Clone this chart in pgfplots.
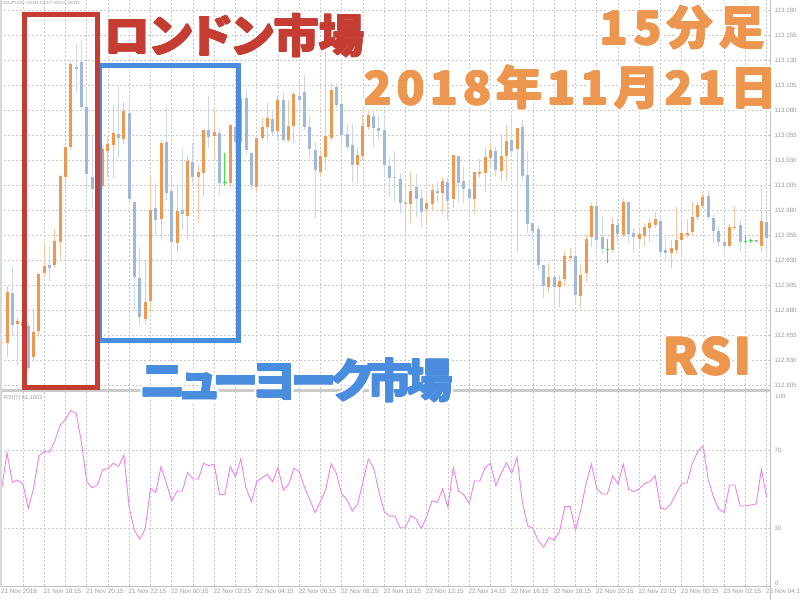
\documentclass[border=0pt]{standalone}
\usepackage{fontspec}
\setmainfont{Liberation Sans}
\newfontfamily\jp[RawFeature=+palt]{Noto Sans CJK JP}
\usepackage{pgfplots}
\usepackage{pgfplotstable}
\pgfplotsset{compat=1.18}

\definecolor{upbody}{RGB}{240,152,82}
\definecolor{upwick}{RGB}{246,198,160}
\definecolor{dnbody}{RGB}{160,185,218}
\definecolor{dnwick}{RGB}{202,216,236}
\definecolor{dojic}{RGB}{60,230,60}
\definecolor{rsic}{RGB}{238,130,238}
\definecolor{redbox}{RGB}{196,60,50}
\definecolor{bluebox}{RGB}{74,140,222}
\definecolor{orangetxt}{RGB}{236,150,80}
\definecolor{gridc}{RGB}{200,200,200}
\definecolor{lbl}{RGB}{155,155,155}
\definecolor{framec}{RGB}{190,190,190}

% USDJPY M15 candles: open high low close (prices)
\pgfplotstableread{
x o h l c
0 112.847 112.880 112.822 112.848
1 112.847 112.904 112.833 112.898
3 112.866 112.873 112.825 112.869
6 112.833 112.882 112.828 112.858
7 112.859 112.917 112.853 112.916
8 112.917 112.947 112.913 112.924
10 112.925 112.961 112.922 112.949
11 112.948 113.015 112.931 113.014
12 113.013 113.043 113.000 113.043
13 113.043 113.128 113.040 113.126
18 113.001 113.010 112.995 113.004
19 113.004 113.044 113.001 113.041
20 113.039 113.053 113.013 113.046
21 113.045 113.085 113.012 113.057
23 113.051 113.088 113.046 113.079
27 112.871 112.929 112.865 112.888
28 112.889 113.013 112.877 112.980
30 112.971 113.050 112.951 113.047
33 112.947 113.005 112.937 112.979
35 112.974 113.035 112.951 113.029
37 113.013 113.025 112.967 113.018
38 113.017 113.060 112.994 113.060
40 113.054 113.082 113.029 113.058
43 113.007 113.065 113.003 113.065
45 113.048 113.095 113.045 113.092
48 113.003 113.052 112.998 113.052
49 113.052 113.072 113.050 113.063
50 113.063 113.087 113.050 113.072
52 113.059 113.095 113.050 113.090
54 113.050 113.090 113.048 113.064
55 113.064 113.098 113.047 113.096
60 113.018 113.040 113.013 113.034
61 113.033 113.147 113.020 113.054
62 113.052 113.107 113.050 113.100
67 113.025 113.042 113.007 113.035
68 113.034 113.075 113.030 113.064
69 113.063 113.080 113.060 113.075
76 112.986 113.007 112.955 112.987
77 112.986 113.018 112.967 112.999
80 112.981 112.993 112.967 112.987
81 112.986 113.006 112.980 113.000
83 112.997 113.012 112.976 113.009
85 112.991 113.035 112.982 113.035
89 112.991 113.018 112.976 113.018
90 113.016 113.031 113.012 113.018
91 113.017 113.043 112.998 113.033
92 113.032 113.047 113.021 113.040
94 113.019 113.056 113.010 113.034
95 113.034 113.065 113.009 113.049
97 113.041 113.062 112.938 113.062
103 112.903 112.927 112.897 112.913
105 112.903 112.915 112.883 112.909
106 112.911 112.939 112.905 112.934
107 112.932 112.942 112.928 112.934
109 112.894 112.925 112.881 112.915
110 112.917 112.955 112.908 112.951
111 112.953 112.987 112.943 112.984
115 112.940 112.972 112.938 112.966
117 112.955 112.992 112.953 112.988
120 112.951 112.963 112.942 112.956
121 112.954 112.967 112.944 112.963
122 112.962 112.972 112.948 112.967
123 112.965 112.978 112.962 112.971
126 112.937 112.950 112.922 112.942
127 112.940 112.983 112.936 112.950
128 112.950 112.970 112.934 112.957
129 112.955 112.971 112.952 112.957
130 112.958 112.988 112.955 112.973
131 112.973 112.988 112.970 112.985
132 112.984 112.997 112.982 112.993
137 112.944 112.966 112.942 112.963
138 112.962 112.984 112.960 112.963
143 112.944 113.005 112.938 112.969
}\uptab

\pgfplotstableread{
x o h l c
2 112.897 112.924 112.855 112.865
4 112.868 112.872 112.860 112.864
5 112.864 112.868 112.818 112.822
9 112.925 112.943 112.909 112.922
14 113.123 113.146 113.098 113.121
15 113.128 113.149 113.080 113.083
16 113.083 113.103 113.003 113.016
17 113.013 113.054 112.982 113.001
22 113.056 113.104 113.032 113.052
24 113.077 113.095 112.985 112.991
25 112.988 112.988 112.880 112.913
26 112.912 112.943 112.865 112.873
29 112.982 113.007 112.955 112.970
31 113.048 113.083 112.990 112.997
32 112.999 113.013 112.927 112.948
34 112.980 113.041 112.960 112.976
36 113.028 113.047 113.007 113.013
39 113.060 113.094 113.042 113.053
41 113.057 113.061 112.995 113.007
44 113.063 113.070 113.040 113.048
46 113.092 113.100 113.035 113.040
47 113.037 113.037 113.000 113.005
51 113.071 113.080 113.055 113.058
53 113.090 113.098 113.048 113.050
56 113.094 113.110 113.080 113.090
57 113.098 113.115 113.060 113.063
58 113.063 113.075 113.032 113.041
59 113.040 113.048 112.972 113.020
63 113.103 113.107 113.082 113.085
64 113.086 113.090 113.043 113.055
65 113.056 113.066 113.040 113.043
66 113.045 113.066 113.007 113.025
70 113.074 113.080 113.043 113.062
71 113.062 113.075 113.050 113.059
72 113.060 113.075 113.012 113.025
73 113.024 113.033 112.993 113.012
74 113.013 113.039 112.988 113.012
75 113.011 113.017 112.977 112.987
78 113.003 113.016 112.973 112.991
79 112.992 113.000 112.963 112.978
82 112.999 113.009 112.988 112.997
84 113.008 113.012 112.970 112.989
86 113.034 113.034 112.987 113.007
87 113.009 113.023 112.987 113.001
88 113.001 113.011 112.976 112.992
93 113.039 113.043 113.013 113.020
96 113.050 113.074 113.035 113.039
98 113.063 113.070 113.010 113.014
99 113.015 113.039 112.957 112.966
100 112.967 112.967 112.951 112.959
101 112.961 112.964 112.920 112.925
102 112.925 112.925 112.892 112.904
104 112.913 112.913 112.882 112.903
108 112.934 112.938 112.885 112.895
112 112.984 112.990 112.943 112.950
113 112.953 112.974 112.936 112.941
116 112.965 112.972 112.947 112.956
118 112.988 112.988 112.947 112.956
119 112.957 112.962 112.937 112.953
124 112.969 112.974 112.932 112.938
125 112.940 112.953 112.931 112.937
133 112.994 113.000 112.970 112.973
134 112.972 112.976 112.947 112.959
135 112.959 112.963 112.943 112.948
136 112.948 112.957 112.938 112.944
139 112.965 112.970 112.938 112.948
142 112.950 112.950 112.948 112.948
144 112.968 112.977 112.932 112.952
}\dntab

\pgfplotstableread{
x o h l c
42 113.007 113.037 113.005 113.007
114 112.940 112.951 112.927 112.940
140 112.948 112.955 112.947 112.948
141 112.949 112.951 112.947 112.949
}\dojitab

\pgfplotstableread{
x r
0 50.6
1 69.0
2 53.7
3 54.9
4 52.8
5 40.3
6 50.6
7 67.3
8 69.5
9 69.2
10 75.0
11 83.2
12 86.2
13 90.6
14 89.3
15 74.7
16 54.0
17 50.9
18 52.3
19 60.1
20 60.9
21 63.5
22 61.9
23 67.8
24 40.6
25 28.8
26 24.5
27 29.6
28 50.6
29 48.5
30 61.8
31 53.2
32 44.1
33 49.2
34 49.2
35 58.8
36 55.4
37 55.4
38 63.5
39 62.3
40 63.0
41 47.5
42 47.5
43 61.8
44 56.6
45 65.7
46 50.6
47 43.7
48 54.0
49 56.1
50 57.8
51 54.0
52 61.4
53 49.6
54 52.7
55 60.9
56 59.2
57 51.1
58 44.6
59 38.1
60 43.7
61 50.1
62 63.3
63 58.3
64 47.7
65 44.6
66 38.9
67 42.5
68 54.0
69 65.7
70 61.3
71 48.9
72 38.6
73 36.3
74 36.3
75 30.3
76 30.3
77 36.5
78 34.8
79 30.0
80 36.0
81 44.2
82 43.4
83 50.3
84 40.8
85 61.4
86 49.2
87 47.2
88 42.9
89 54.4
90 54.4
91 61.3
92 63.5
93 52.0
94 58.3
95 63.8
96 58.3
97 66.6
98 43.7
99 31.2
100 30.0
101 23.6
102 20.2
103 25.3
104 24.0
105 28.3
106 41.2
107 41.2
108 29.1
109 39.4
110 53.2
111 63.1
112 50.6
113 47.7
114 47.7
115 57.0
116 52.8
117 63.1
118 50.1
119 48.9
120 50.3
121 53.2
122 54.0
123 57.1
124 40.6
125 39.8
126 42.9
127 48.0
128 53.2
129 53.4
130 63.5
131 69.5
132 72.6
133 54.9
134 46.0
135 39.8
136 38.1
137 52.3
138 52.3
139 41.5
140 41.5
141 42.0
142 42.5
143 60.4
144 45.8
}\rsitab

% exact (double precision) helper columns, in units of 0.001 above 112.800
\newcommand\mkcols[1]{%
  \pgfplotstablecreatecol[create col/assign/.code={%
      \getthisrow{h}{\hv}\getthisrow{l}{\lv}%
      \edef\entry{\fpeval{((\hv+\lv)/2-112.8)*1000}}%
      \pgfkeyslet{/pgfplots/table/create col/next content}\entry}]{wm}{#1}%
  \pgfplotstablecreatecol[create col/assign/.code={%
      \getthisrow{h}{\hv}\getthisrow{l}{\lv}%
      \edef\entry{\fpeval{max((\hv-\lv)/2*1000,0.5)}}%
      \pgfkeyslet{/pgfplots/table/create col/next content}\entry}]{we}{#1}%
  \pgfplotstablecreatecol[create col/assign/.code={%
      \getthisrow{o}{\ov}\getthisrow{c}{\cv}%
      \edef\entry{\fpeval{((\ov+\cv)/2-112.8)*1000}}%
      \pgfkeyslet{/pgfplots/table/create col/next content}\entry}]{bm}{#1}%
  \pgfplotstablecreatecol[create col/assign/.code={%
      \getthisrow{o}{\ov}\getthisrow{c}{\cv}%
      \edef\entry{\fpeval{max(abs(\cv-\ov)/2*1000,0.6)}}%
      \pgfkeyslet{/pgfplots/table/create col/next content}\entry}]{be}{#1}%
}
\mkcols{\uptab}
\mkcols{\dntab}
\mkcols{\dojitab}

% text with a white halo and a slight extra weight
\newcommand\halotext[5]{%
  \foreach \a in {0,30,...,330}{%
    \node[anchor=base west, inner sep=0pt, text=white, font={#4}] at ([shift={(\a:2.8)}]#1,#2) {#5};}
  \foreach \a in {0,60,...,300}{%
    \node[anchor=base west, inner sep=0pt, text=#3, font={#4}] at ([shift={(\a:0.6)}]#1,#2) {#5};}
  \node[anchor=base west, inner sep=0pt, text=#3, font={#4}] at (#1,#2) {#5};
}

\pgfplotsset{
  mtgrid/.style={
    grid=major,
    grid style={dash pattern=on 2bp off 2bp, line width=0.7bp, color=gridc},
    major tick length=0pt,
    axis line style={draw=none},
    /pgf/number format/assume math mode=true,
    yticklabel pos=right,
    yticklabel style={anchor=west, inner sep=0pt, xshift=4.5bp,
      font=\fontsize{6.2bp}{7bp}\selectfont, text=lbl},
  },
  wick/.style={draw=none, mark=none, forget plot,
    error bars/.cd, y dir=both, y explicit, error mark=none,
    error bar style={draw=#1, line width=1bp}},
  cbody/.style={draw=none, mark=none, forget plot,
    error bars/.cd, y dir=both, y explicit, error mark=none,
    error bar style={draw=#1, line width=3bp}},
}

\begin{document}
\begin{tikzpicture}[x=1bp,y=1bp]
\useasboundingbox (0,0) rectangle (800,600);
\fill[white] (0,0) rectangle (800,600);

% ---------------- price window ----------------
\begin{axis}[
  at={(0bp,211bp)}, anchor=south west, scale only axis,
  width=770bp, height=389bp,
  xmin=-0.32, xmax=144.62, ymin=1, ymax=390,
  mtgrid,
  xtick={0,4,...,144}, xticklabels={},
  ytick={5,30,55,80,105,130,155,180,205,230,255,280,305,330,355,380},
  yticklabels={112.805,112.830,112.855,112.880,112.905,112.930,112.955,112.980,113.005,113.030,113.055,113.080,113.105,113.130,113.155,113.180},
]
\addplot[wick=upwick] table[x=x, y=wm, y error=we] {\uptab};
\addplot[wick=dnwick] table[x=x, y=wm, y error=we] {\dntab};
\addplot[wick=dojic] table[x=x, y=wm, y error=we] {\dojitab};
\addplot[cbody=upbody] table[x=x, y=bm, y error=be] {\uptab};
\addplot[cbody=dnbody] table[x=x, y=bm, y error=be] {\dntab};
\addplot[only marks, mark=-, mark size=1.8bp, mark options={draw=dojic, line width=1bp}, forget plot] table[x=x, y=bm] {\dojitab};
\end{axis}

% ---------------- RSI window ----------------
\begin{axis}[
  at={(0bp,13.5bp)}, anchor=south west, scale only axis,
  width=770bp, height=194bp,
  xmin=-0.32, xmax=144.62, ymin=0, ymax=100,
  mtgrid,
  ytick={30,70},
  xtick={0,4,...,144},
  xticklabels={21 Nov 2018,,21 Nov 18:15,,21 Nov 20:15,,21 Nov 22:15,,22 Nov 00:15,,22 Nov 02:15,,22 Nov 04:15,,22 Nov 06:15,,22 Nov 08:15,,22 Nov 10:15,,22 Nov 12:15,,22 Nov 14:15,,22 Nov 16:15,,22 Nov 18:15,,22 Nov 20:15,,22 Nov 22:15,,23 Nov 00:15,,23 Nov 02:15,,23 Nov 04:15},
  xticklabel style={anchor=north west, inner sep=0pt, xshift=-0.8bp, yshift=-2.5bp,
    font=\fontsize{6.3bp}{7bp}\selectfont, text=lbl},
]
\addplot[color=rsic, line width=0.9bp, mark=none] table[x=x, y=r] {\rsitab};
\end{axis}

% frames and separators
\draw[framec, line width=1bp] (770.5,0) -- (770.5,600);
\draw[framec, line width=1bp] (0,13.3) -- (770.5,13.3);
\draw[framec!80, line width=2.5bp] (0,209.5) -- (770.5,209.5);
\draw[framec!60, line width=1.6bp] (0.8,13.3) -- (0.8,600);
\node[anchor=west, inner sep=0pt, font=\fontsize{6.2bp}{7bp}\selectfont, text=lbl] at (775,204) {100};
\node[anchor=west, inner sep=0pt, font=\fontsize{6.2bp}{7bp}\selectfont, text=lbl] at (775,17) {0};
\node[anchor=north west, inner sep=0pt, xscale=0.82, font=\fontsize{4.3bp}{5bp}\selectfont, text=lbl] at (2.5,598.5) {USDJPY,M15 \ 108.816 108.827 108.812 108.822};
\node[anchor=north west, inner sep=0pt, font=\fontsize{5.6bp}{6bp}\selectfont, text=lbl] at (4,205) {RSI(7) 61.1603};

% boxes
\draw[bluebox, line width=5bp] (99.5,534.5) rectangle (238.5,259);
\draw[redbox, line width=5bp] (24.5,585.5) rectangle (97.5,212.5);

% annotations
\halotext{104}{547}{redbox}{\jp\bfseries\fontsize{45.5bp}{46bp}\selectfont}{ロンドン市場}
\halotext{600}{555}{orangetxt}{\jp\bfseries\fontsize{46bp}{46bp}\selectfont\addfontfeatures{LetterSpace=12}}{15分足}
\halotext{364}{495}{orangetxt}{\jp\bfseries\fontsize{46bp}{46bp}\selectfont\addfontfeatures{LetterSpace=11}}{2018年11月21日}
\halotext{663}{225}{orangetxt}{\jp\bfseries\fontsize{50bp}{50bp}\selectfont\addfontfeatures{LetterSpace=4}}{RSI}
\halotext{140}{202}{bluebox}{\jp\bfseries\fontsize{46bp}{46bp}\selectfont\addfontfeatures{LetterSpace=-12}}{ニューヨーク市場}
\end{tikzpicture}
\end{document}
